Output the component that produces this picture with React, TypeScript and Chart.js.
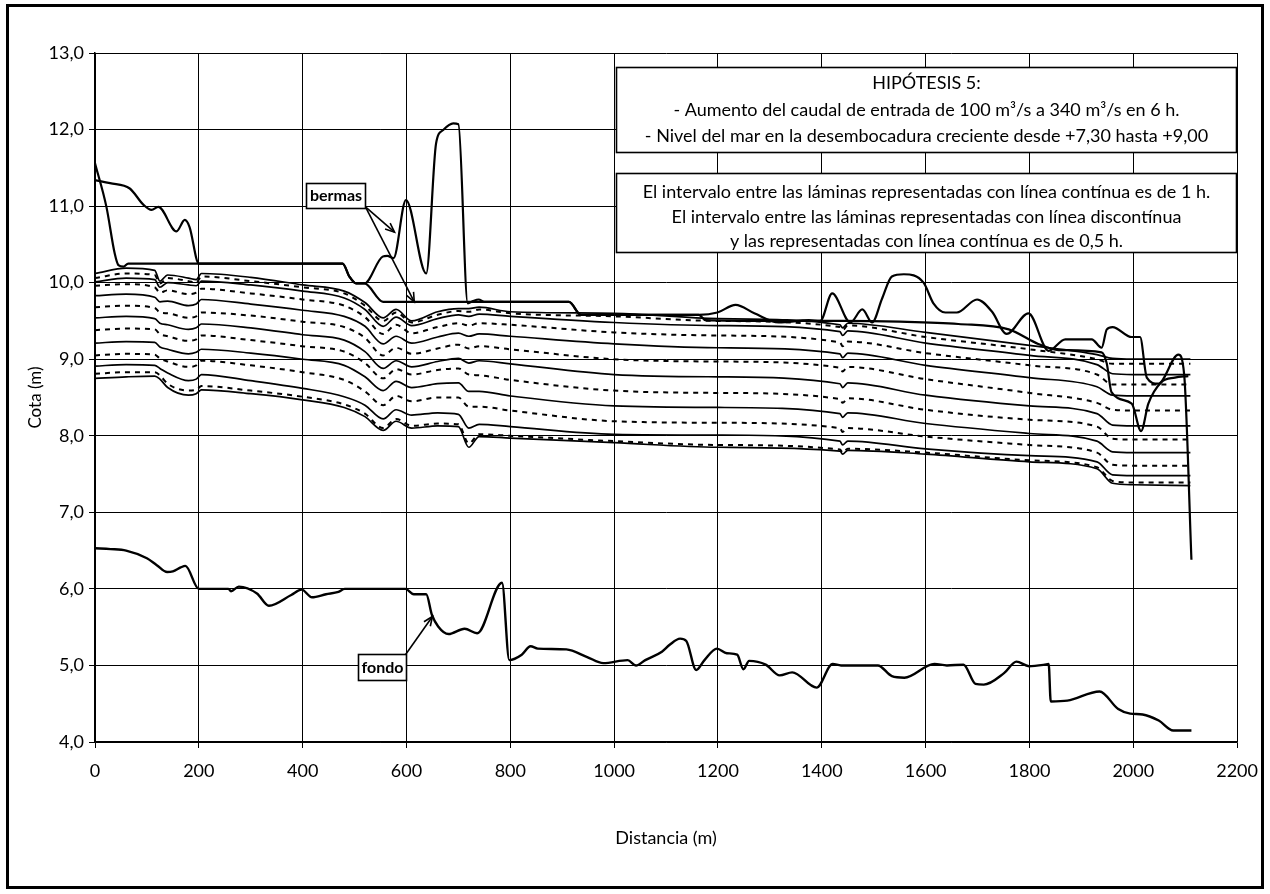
import React, { useEffect, useRef } from "react";
import { Chart, registerables } from "chart.js";

Chart.register(...registerables);

const FONT = "Lato, 'Open Sans', sans-serif";

// Ejes
const xMin = 0;
const xMax = 2200;
const xStep = 200;
const yMin = 4;
const yMax = 13;
const yStep = 1;

// Fondo del cauce
const fondoX = [0, 30, 60, 100, 119, 139, 150, 165, 174, 200, 257, 262, 277, 312, 335, 378, 398, 418, 445, 469, 481, 598, 614, 638, 649, 661, 681, 712, 736, 784, 798, 822, 839, 853, 908, 948, 979, 1026, 1042, 1060, 1092, 1107, 1127, 1139, 1158, 1174, 1198, 1217, 1237, 1249, 1260, 1292, 1319, 1343, 1390, 1421, 1437, 1508, 1535, 1559, 1617, 1641, 1673, 1696, 1712, 1751, 1775, 1799, 1829, 1837, 1841, 1873, 1935, 1971, 1994, 2018, 2049, 2077, 2112];
const fondoY = [6.53, 6.52, 6.5, 6.4, 6.31, 6.22, 6.23, 6.28, 6.3, 6.0, 6.0, 5.97, 6.03, 5.94, 5.78, 5.92, 5.99, 5.89, 5.93, 5.96, 6.0, 6.0, 5.93, 5.93, 5.66, 5.51, 5.41, 5.48, 5.42, 6.08, 5.07, 5.14, 5.25, 5.22, 5.21, 5.11, 5.03, 5.07, 5.0, 5.07, 5.18, 5.27, 5.35, 5.32, 4.94, 5.07, 5.22, 5.16, 5.14, 4.95, 5.06, 5.01, 4.87, 4.91, 4.71, 5.02, 5.0, 5.0, 4.86, 4.84, 5.02, 5.0, 5.01, 4.76, 4.75, 4.9, 5.05, 4.99, 5.01, 5.02, 4.53, 4.54, 4.66, 4.43, 4.37, 4.36, 4.28, 4.15, 4.15];

// Berma 1
const berma1X = [0, 22, 38, 45, 55, 64, 477, 490, 503, 519, 554, 563, 575, 599, 638, 657, 670, 690, 700, 718, 728, 739, 750, 913, 936, 1163, 1199, 1234, 1270, 1317, 1375, 1397, 1420, 1455, 1478, 1497, 1516, 1535, 1558, 1596, 1615, 1638, 1660, 1699, 1728, 1756, 1798, 1837, 1869, 1920, 1939, 1949, 1960, 1997, 2013, 2026, 2048, 2087, 2098, 2112];
const berma1Y = [11.56, 10.99, 10.38, 10.23, 10.21, 10.25, 10.25, 10.08, 9.99, 9.99, 10.34, 10.35, 10.32, 11.08, 10.12, 11.82, 11.99, 12.08, 12.07, 9.73, 9.76, 9.78, 9.75, 9.75, 9.58, 9.58, 9.61, 9.71, 9.6, 9.48, 9.51, 9.5, 9.86, 9.48, 9.65, 9.48, 9.79, 10.08, 10.11, 10.0, 9.73, 9.61, 9.61, 9.78, 9.62, 9.33, 9.6, 9.11, 9.26, 9.26, 9.15, 9.39, 9.42, 9.29, 9.29, 8.76, 8.68, 9.06, 8.8, 6.38];

// Berma 2
const berma2X = [0, 29, 67, 93, 109, 122, 157, 173, 182, 200, 477, 490, 503, 519, 555, 913, 936, 1163, 1176, 1300, 1440, 1550, 1663, 1760, 1817, 1856, 1939, 1949, 1958, 1997, 2015, 2029, 2054, 2080, 2106];
const berma2Y = [11.34, 11.3, 11.23, 11.02, 10.95, 10.99, 10.67, 10.82, 10.73, 10.25, 10.25, 10.08, 9.99, 9.99, 9.75, 9.75, 9.58, 9.58, 9.51, 9.5, 9.5, 9.49, 9.46, 9.39, 9.2, 9.12, 9.09, 8.94, 8.57, 8.42, 8.06, 8.42, 8.7, 8.76, 8.78];

// Láminas de agua: estaciones comunes
const estaciones = [0, 60, 115, 125, 140, 180, 195, 205, 300, 400, 480, 520, 555, 580, 610, 660, 700, 720, 740, 800, 1000, 1200, 1435, 1440, 1450, 1600, 1800, 1930, 1960, 2000, 2110];

const lamina0h = [8.75, 8.77, 8.78, 8.74, 8.63, 8.53, 8.55, 8.6, 8.55, 8.47, 8.37, 8.25, 8.07, 8.19, 8.1, 8.13, 8.12, 7.85, 7.99, 7.97, 7.91, 7.85, 7.8, 7.76, 7.81, 7.76, 7.66, 7.57, 7.38, 7.36, 7.35];
const lamina05h = [8.81, 8.83, 8.83, 8.79, 8.68, 8.59, 8.6, 8.65, 8.59, 8.51, 8.41, 8.29, 8.1, 8.22, 8.13, 8.16, 8.15, 7.9, 8.02, 8.0, 7.93, 7.88, 7.82, 7.78, 7.83, 7.78, 7.68, 7.59, 7.41, 7.39, 7.39];
const lamina1h = [8.91, 8.93, 8.92, 8.88, 8.82, 8.72, 8.74, 8.8, 8.72, 8.62, 8.51, 8.4, 8.22, 8.34, 8.27, 8.3, 8.28, 8.1, 8.15, 8.12, 8.02, 8.01, 7.93, 7.88, 7.93, 7.83, 7.74, 7.66, 7.49, 7.48, 7.48];
const lamina15h = [9.05, 9.07, 9.06, 9.01, 8.97, 8.9, 8.92, 8.98, 8.92, 8.83, 8.73, 8.58, 8.4, 8.52, 8.45, 8.5, 8.5, 8.38, 8.38, 8.33, 8.19, 8.17, 8.1, 8.05, 8.1, 7.99, 7.88, 7.78, 7.62, 7.61, 7.61];
const lamina2h = [9.21, 9.23, 9.22, 9.16, 9.13, 9.07, 9.09, 9.13, 9.08, 9.0, 8.92, 8.77, 8.59, 8.71, 8.63, 8.68, 8.69, 8.58, 8.58, 8.52, 8.39, 8.37, 8.29, 8.24, 8.3, 8.16, 8.03, 7.93, 7.79, 7.78, 7.78];
const lamina25h = [9.38, 9.4, 9.39, 9.33, 9.3, 9.24, 9.26, 9.31, 9.25, 9.17, 9.1, 8.95, 8.75, 8.87, 8.8, 8.86, 8.88, 8.8, 8.79, 8.73, 8.59, 8.56, 8.48, 8.43, 8.49, 8.34, 8.21, 8.12, 7.96, 7.95, 7.95];
const lamina3h = [9.54, 9.56, 9.53, 9.47, 9.45, 9.39, 9.41, 9.46, 9.41, 9.32, 9.25, 9.1, 8.88, 8.98, 8.9, 8.97, 9.01, 8.95, 8.98, 8.94, 8.8, 8.77, 8.68, 8.63, 8.69, 8.53, 8.39, 8.29, 8.14, 8.13, 8.13];
const lamina35h = [9.68, 9.7, 9.67, 9.61, 9.6, 9.54, 9.56, 9.61, 9.57, 9.49, 9.42, 9.28, 9.05, 9.15, 9.07, 9.14, 9.19, 9.14, 9.17, 9.13, 9.0, 8.97, 8.89, 8.84, 8.9, 8.74, 8.56, 8.43, 8.34, 8.33, 8.33];
const lamina4h = [9.83, 9.85, 9.81, 9.75, 9.76, 9.7, 9.72, 9.78, 9.72, 9.64, 9.56, 9.43, 9.2, 9.3, 9.21, 9.29, 9.34, 9.3, 9.33, 9.3, 9.2, 9.15, 9.07, 9.02, 9.08, 8.92, 8.76, 8.64, 8.53, 8.52, 8.52];
const lamina45h = [9.96, 9.98, 9.94, 9.87, 9.9, 9.85, 9.87, 9.92, 9.86, 9.78, 9.7, 9.55, 9.33, 9.45, 9.34, 9.42, 9.47, 9.44, 9.47, 9.45, 9.35, 9.31, 9.22, 9.17, 9.23, 9.08, 8.92, 8.8, 8.67, 8.67, 8.67];
const lamina5h = [10.01, 10.06, 10.04, 9.94, 10.0, 9.97, 9.96, 10.02, 9.97, 9.89, 9.8, 9.65, 9.43, 9.55, 9.44, 9.53, 9.58, 9.56, 9.59, 9.56, 9.48, 9.44, 9.36, 9.31, 9.37, 9.21, 9.05, 8.93, 8.81, 8.8, 8.8];
const lamina55h = [10.06, 10.12, 10.1, 9.99, 10.06, 10.02, 10.0, 10.08, 10.02, 9.94, 9.86, 9.7, 9.5, 9.61, 9.48, 9.58, 9.63, 9.62, 9.65, 9.6, 9.56, 9.5, 9.42, 9.38, 9.44, 9.29, 9.13, 9.0, 8.94, 8.94, 8.94];
const lamina6h = [10.12, 10.19, 10.16, 10.02, 10.1, 10.06, 10.04, 10.12, 10.07, 9.97, 9.89, 9.74, 9.54, 9.65, 9.5, 9.62, 9.66, 9.66, 9.68, 9.62, 9.6, 9.53, 9.45, 9.41, 9.47, 9.35, 9.18, 9.06, 9.01, 9.0, 9.0];

const laminas = [
  { nombre: "0 h", valores: lamina0h, discontinua: false },
  { nombre: "0,5 h", valores: lamina05h, discontinua: true },
  { nombre: "1 h", valores: lamina1h, discontinua: false },
  { nombre: "1,5 h", valores: lamina15h, discontinua: true },
  { nombre: "2 h", valores: lamina2h, discontinua: false },
  { nombre: "2,5 h", valores: lamina25h, discontinua: true },
  { nombre: "3 h", valores: lamina3h, discontinua: false },
  { nombre: "3,5 h", valores: lamina35h, discontinua: true },
  { nombre: "4 h", valores: lamina4h, discontinua: false },
  { nombre: "4,5 h", valores: lamina45h, discontinua: true },
  { nombre: "5 h", valores: lamina5h, discontinua: false },
  { nombre: "5,5 h", valores: lamina55h, discontinua: true },
  { nombre: "6 h", valores: lamina6h, discontinua: false },
];

// Textos
const textoHipotesis = [
  "HIPÓTESIS 5:",
  "- Aumento del caudal de entrada de 100 m³/s a 340 m³/s en 6 h.",
  "- Nivel del mar en la desembocadura creciente desde +7,30 hasta +9,00",
];
const textoIntervalo = [
  "El intervalo entre las láminas representadas con línea contínua es de 1 h.",
  "El intervalo entre las láminas representadas con línea discontínua",
  "y las representadas con línea contínua es de 0,5 h.",
];

const toPts = (xs: number[], ys: number[]) => xs.map((x, i) => ({ x, y: ys[i] }));

const cajas = [
  { x0: 1004, x1: 2200, yTop: 12.817, yBot: 11.707, lineas: textoHipotesis, first: 16, step: 26.5 },
  { x0: 1004, x1: 2200, yTop: 11.433, yBot: 10.4, lineas: textoIntervalo, first: 19, step: 24.5 },
];

const etiquetas = [
  { texto: "bermas", x0: 406, x1: 521, yTop: 11.3, yBot: 10.98, flechas: [{ fx: 521, fy: 10.99, tx: 577, ty: 10.66 }, { fx: 521, fy: 10.99, tx: 615, ty: 9.75 }] },
  { texto: "fondo", x0: 506, x1: 600, yTop: 5.15, yBot: 4.81, flechas: [{ fx: 598, fy: 5.14, tx: 650, ty: 5.64 }] },
];

const annotationPlugin = {
  id: "anotaciones",
  beforeDraw(chart: any) {
    const ctx = chart.ctx;
    ctx.save();
    ctx.fillStyle = "#fff";
    ctx.fillRect(0, 0, chart.width, chart.height);
    ctx.restore();
  },
  afterDatasetsDraw(chart: any) {
    const ctx = chart.ctx;
    const xs = chart.scales.x;
    const ys = chart.scales.y;
    ctx.save();
    for (const c of cajas) {
      const l = Math.round(xs.getPixelForValue(c.x0)) + 0.5;
      const r = Math.round(xs.getPixelForValue(c.x1)) - 0.5;
      const t = Math.round(ys.getPixelForValue(c.yTop)) + 0.5;
      const b = Math.round(ys.getPixelForValue(c.yBot)) + 0.5;
      ctx.fillStyle = "#fff";
      ctx.fillRect(l, t, r - l, b - t);
      ctx.strokeStyle = "#000";
      ctx.lineWidth = 1.6;
      ctx.strokeRect(l, t, r - l, b - t);
      ctx.fillStyle = "#000";
      ctx.font = `18px ${FONT}`;
      ctx.textAlign = "center";
      ctx.textBaseline = "middle";
      c.lineas.forEach((txt, i) => {
        ctx.fillText(txt, (l + r) / 2, t + c.first + i * c.step);
      });
    }
    for (const e of etiquetas) {
      ctx.strokeStyle = "#000";
      ctx.lineWidth = 1.6;
      for (const f of e.flechas) {
        const x1 = xs.getPixelForValue(f.fx);
        const y1 = ys.getPixelForValue(f.fy);
        const x2 = xs.getPixelForValue(f.tx);
        const y2 = ys.getPixelForValue(f.ty);
        ctx.beginPath();
        ctx.moveTo(x1, y1);
        ctx.lineTo(x2, y2);
        ctx.stroke();
        const ang = Math.atan2(y2 - y1, x2 - x1);
        const len = 10;
        ctx.beginPath();
        ctx.moveTo(x2 - len * Math.cos(ang - 0.4), y2 - len * Math.sin(ang - 0.4));
        ctx.lineTo(x2, y2);
        ctx.lineTo(x2 - len * Math.cos(ang + 0.4), y2 - len * Math.sin(ang + 0.4));
        ctx.stroke();
      }
      const l = Math.round(xs.getPixelForValue(e.x0)) + 0.5;
      const r = Math.round(xs.getPixelForValue(e.x1)) + 0.5;
      const t = Math.round(ys.getPixelForValue(e.yTop)) + 0.5;
      const b = Math.round(ys.getPixelForValue(e.yBot)) + 0.5;
      ctx.fillStyle = "#fff";
      ctx.fillRect(l, t, r - l, b - t);
      ctx.lineWidth = 1.6;
      ctx.strokeRect(l, t, r - l, b - t);
      ctx.fillStyle = "#000";
      ctx.font = `bold 16px ${FONT}`;
      ctx.textAlign = "center";
      ctx.textBaseline = "middle";
      ctx.fillText(e.texto, (l + r) / 2, (t + b) / 2);
    }
    ctx.restore();
  },
  afterDraw(chart: any) {
    const ctx = chart.ctx;
    ctx.save();
    ctx.strokeStyle = "#000";
    ctx.lineWidth = 3;
    ctx.strokeRect(7.5, 5.5, 1255, 882);
    ctx.restore();
  },
};

export default function App() {
  const ref = useRef<HTMLCanvasElement | null>(null);

  useEffect(() => {
    if (!ref.current) return;
    const base = { borderColor: "#000", pointRadius: 0, fill: false, cubicInterpolationMode: "monotone" };
    const datasets: any[] = [
      { ...base, label: "fondo", data: toPts(fondoX, fondoY), borderWidth: 2.4 },
      { ...base, label: "berma 1", data: toPts(berma1X, berma1Y), borderWidth: 2.2 },
      { ...base, label: "berma 2", data: toPts(berma2X, berma2Y), borderWidth: 2.2 },
      ...laminas.map((l) => ({
        ...base,
        label: l.nombre,
        data: toPts(estaciones, l.valores),
        borderWidth: l.discontinua ? 2 : 1.7,
        borderDash: l.discontinua ? [5, 5] : [],
      })),
    ];

    const chart = new Chart(ref.current, {
      type: "line",
      data: { datasets },
      options: {
        animation: false,
        responsive: false,
        devicePixelRatio: 1,
        layout: { padding: { left: 0, top: 53, right: 31, bottom: 0 } },
        plugins: { legend: { display: false }, tooltip: { enabled: false } },
        scales: {
          x: {
            type: "linear",
            min: xMin,
            max: xMax,
            ticks: {
              stepSize: xStep,
              color: "#000",
              font: { family: FONT, size: 18 },
              padding: 12,
              maxRotation: 0,
              callback: (v: any) => String(v),
            },
            grid: { color: "#000", lineWidth: 1, tickLength: 6, tickColor: "#000" },
            border: { color: "#000", width: 1.5 },
            title: {
              display: true,
              text: "Distancia (m)",
              color: "#000",
              font: { family: FONT, size: 18 },
              padding: { top: 0, bottom: 45 },
            },
            afterFit: (s: any) => {
              s.height = 152;
            },
          },
          y: {
            type: "linear",
            min: yMin,
            max: yMax,
            ticks: {
              stepSize: yStep,
              color: "#000",
              font: { family: FONT, size: 18 },
              padding: 5,
              callback: (v: any) => Number(v).toFixed(1).replace(".", ","),
            },
            grid: { color: "#000", lineWidth: 1, tickLength: 6, tickColor: "#000" },
            border: { color: "#000", width: 1.5 },
            title: {
              display: true,
              text: "Cota (m)",
              color: "#000",
              font: { family: FONT, size: 17 },
              padding: { top: 25, bottom: 0 },
            },
            afterFit: (s: any) => {
              s.width = 95;
            },
          },
        },
      },
      plugins: [annotationPlugin],
    } as any);
    return () => chart.destroy();
  }, []);

  return (
    <div style={{ position: "absolute", left: 0, top: 0, width: 1270, height: 894, background: "#fff" }}>
      <canvas ref={ref} width={1270} height={894} style={{ display: "block", width: 1270, height: 894 }} />
    </div>
  );
}
